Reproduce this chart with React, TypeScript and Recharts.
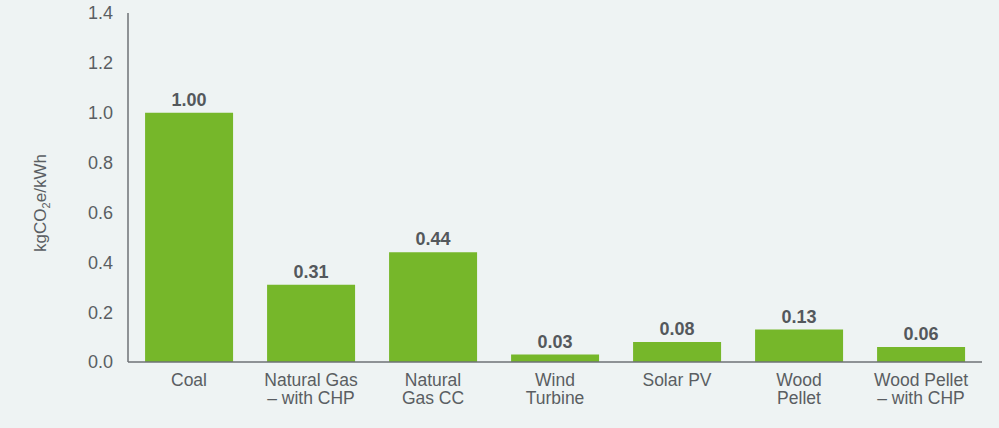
import { Bar, BarChart, LabelList, XAxis, YAxis } from "recharts";

const categories = [
  "Coal",
  "Natural Gas\n– with CHP",
  "Natural\nGas CC",
  "Wind\nTurbine",
  "Solar PV",
  "Wood\nPellet",
  "Wood Pellet\n– with CHP",
];
const emissions = [1.0, 0.31, 0.44, 0.03, 0.08, 0.13, 0.06];
const yTicks = [0, 0.2, 0.4, 0.6, 0.8, 1.0, 1.2, 1.4];

const data = categories.map((name, i) => ({ name, value: emissions[i] }));

const FONT = "'Liberation Sans', Arial, sans-serif";
const TEXT = "#5a5e62";
const AXIS = "#6e7276";

function CategoryTick({ x, y, payload }: any) {
  const lines = String(payload.value).split("\n");
  return (
    <text x={x} y={y} textAnchor="middle" fill={TEXT} fontSize={17.5} fontFamily={FONT}>
      {lines.map((line, i) => (
        <tspan key={i} x={x} dy={i === 0 ? 23.5 : 18.5}>
          {line}
        </tspan>
      ))}
    </text>
  );
}

function AxisTitle() {
  return (
    <text
      x={46}
      y={203}
      transform="rotate(-90 46 203)"
      textAnchor="middle"
      fill={TEXT}
      fontSize={17}
      fontFamily={FONT}
    >
      kgCO<tspan fontSize={11} dy={4}>2</tspan>
      <tspan dy={-4}>e/kWh</tspan>
    </text>
  );
}

export default function App() {
  return (
    <div style={{ position: "absolute", left: 0, top: 0, width: 999, height: 428, background: "#eef3f3" }}>
      <BarChart
        width={999}
        height={428}
        data={data}
        margin={{ top: 13, right: 17, bottom: 0, left: 0 }}
        barCategoryGap="14%"
      >
        <XAxis
          dataKey="name"
          height={66}
          tickSize={0}
          tickMargin={0}
          interval={0}
          tick={<CategoryTick />}
          axisLine={{ stroke: AXIS, strokeWidth: 1.5 }}
          tickLine={false}
        />
        <YAxis
          width={128}
          domain={[0, 1.4]}
          ticks={yTicks}
          tickFormatter={(v: number) => v.toFixed(1)}
          tickSize={0}
          tickMargin={15}
          tickLine={false}
          axisLine={{ stroke: AXIS, strokeWidth: 1.5 }}
          tick={{ fill: TEXT, fontSize: 18, fontFamily: FONT }}
        />
        <Bar dataKey="value" fill="#76b72a" isAnimationActive={false}>
          <LabelList
            dataKey="value"
            position="top"
            offset={7}
            formatter={(v: any) => Number(v).toFixed(2)}
            fill="#54585c"
            fontSize={18}
            fontWeight="bold"
            fontFamily={FONT}
          />
        </Bar>
        <AxisTitle />
      </BarChart>
    </div>
  );
}
